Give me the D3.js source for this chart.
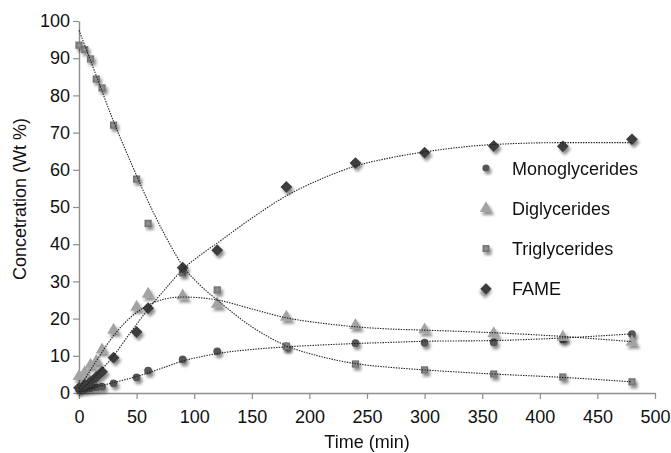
<!DOCTYPE html>
<html>
<head>
<meta charset="utf-8">
<script src="https://cdn.jsdelivr.net/npm/d3@7"></script>
<style>
  html, body { margin: 0; padding: 0; background: #fff; }
  svg { display: block; font-family: "Liberation Sans", Arial, Helvetica, sans-serif; }
</style>
</head>
<body>
<svg id="chart" width="671" height="453"></svg>
<script>
// Sampling times (min) and measured concentrations (wt %)
const times = [0, 5, 10, 15, 20, 30, 50, 60, 90, 120, 180, 240, 300, 360, 420, 480];
const mono  = [1.0, 1.1, 1.3, 1.5, 1.7, 2.6, 4.2, 6.0, 9.0, 11.2, 12.5, 13.4, 13.5, 13.6, 14.4, 15.8];
const di    = [4.5, 5.5, 7.5, 8.5, 11.6, 16.9, 23.1, 26.6, 26.1, 23.9, 20.4, 18.2, 17.0, 16.0, 15.0, 13.7];
const tri   = [93.5, 92.3, 89.8, 84.4, 82.0, 72.0, 57.5, 45.6, 32.3, 27.7, 12.6, 7.8, 6.2, 5.1, 4.3, 3.0];
const fame  = [1.4, 2.2, 3.0, 4.3, 5.7, 9.5, 16.4, 22.8, 33.7, 38.4, 55.4, 61.8, 64.6, 66.4, 66.3, 68.2];

// Fitted trend curves, sampled at these times
const fitTimes = [0, 15, 30, 45, 60, 75, 90, 105, 120, 150, 180, 210, 240, 270, 300, 360, 420, 480];
const fitMono  = [0.3, 1.6, 2.8, 4.0, 5.4, 7.0, 8.6, 9.7, 10.6, 11.7, 12.4, 12.9, 13.3, 13.6, 13.9, 14.1, 14.8, 15.9];
const fitDi    = [1.2, 8.6, 15.4, 20.4, 23.6, 25.3, 25.8, 25.6, 25.0, 22.6, 20.2, 18.8, 17.8, 17.2, 16.9, 16.2, 15.2, 13.8];
const fitTri   = [97.5, 85.3, 73.0, 62.0, 51.5, 42.2, 34.2, 29.0, 25.0, 17.8, 12.7, 9.8, 7.9, 6.9, 6.2, 5.1, 4.2, 3.0];
const fitFame  = [0.3, 4.8, 10.0, 16.4, 22.5, 28.0, 33.2, 37.0, 40.3, 47.0, 53.0, 57.5, 61.0, 63.2, 64.8, 66.8, 67.3, 67.3];

const xTicks = [0, 50, 100, 150, 200, 250, 300, 350, 400, 450, 500];
const yTicks = [0, 10, 20, 30, 40, 50, 60, 70, 80, 90, 100];

const seriesNames = ["Monoglycerides", "Diglycerides", "Triglycerides", "FAME"];

const svg = d3.select("#chart");
const x = d3.scaleLinear().domain([0, 500]).range([79, 655]);
const y = d3.scaleLinear().domain([0, 100]).range([393, 21]);

// soft drop shadow under the markers
const defs = svg.append("defs");
const f = defs.append("filter").attr("id", "shadow")
  .attr("x", "-60%").attr("y", "-60%").attr("width", "220%").attr("height", "220%");
f.append("feGaussianBlur").attr("in", "SourceAlpha").attr("stdDeviation", 1.6).attr("result", "b");
f.append("feOffset").attr("in", "b").attr("dx", 1.5).attr("dy", 2.5).attr("result", "o");
f.append("feComponentTransfer").attr("in", "o").attr("result", "s")
  .append("feFuncA").attr("type", "linear").attr("slope", 0.45);
const m = f.append("feMerge");
m.append("feMergeNode").attr("in", "s");
m.append("feMergeNode").attr("in", "SourceGraphic");

const sqGrad = defs.append("radialGradient").attr("id", "sqGrad");
sqGrad.append("stop").attr("offset", "0%").attr("stop-color", "#9a9a9a");
sqGrad.append("stop").attr("offset", "100%").attr("stop-color", "#707070");

// marker styles per series
const styles = [
  { sym: d3.symbolCircle,   size: 48, fill: "#555555", rot: 0 },
  { sym: d3.symbolTriangle, size: 70, fill: "#a3a3a3", rot: 0 },
  { sym: d3.symbolSquare,   size: 52, fill: "url(#sqGrad)", rot: 0 },
  { sym: d3.symbolSquare,   size: 70, fill: "#3c3c3c", rot: 45 }
];
const values = [mono, di, tri, fame];
const fits = [fitMono, fitDi, fitTri, fitFame];

// axes
const axisColor = "#8e8e8e";
const gy = svg.append("g").attr("transform", `translate(${x(0)},0)`)
  .call(d3.axisLeft(y).tickValues(yTicks).tickSize(6).tickPadding(3).tickSizeOuter(0));
const gx = svg.append("g").attr("transform", `translate(0,${y(0)})`)
  .call(d3.axisBottom(x).tickValues(xTicks).tickSize(6).tickPadding(11).tickSizeOuter(0));
[gx, gy].forEach(g => {
  g.select(".domain").attr("stroke", axisColor).attr("stroke-width", 1.4);
  g.selectAll(".tick line").attr("stroke", axisColor).attr("stroke-width", 1.2);
  g.selectAll(".tick text").attr("fill", "#111").style("font-size", "18px");
});

// markers
values.forEach((vals, i) => {
  const st = styles[i];
  svg.append("g").attr("filter", "url(#shadow)")
    .selectAll("path").data(times.map((t, k) => [t, vals[k]]))
    .join("path")
    .attr("d", d3.symbol().type(st.sym).size(st.size))
    .attr("transform", d => `translate(${x(d[0])},${y(d[1])}) rotate(${st.rot})`)
    .attr("fill", st.fill);
});

// dotted trend curves
const line = d3.line().x(d => x(d[0])).y(d => y(d[1])).curve(d3.curveMonotoneX);
fits.forEach(fv => {
  svg.append("path")
    .datum(fitTimes.map((t, k) => [t, fv[k]]))
    .attr("d", line)
    .attr("fill", "none")
    .attr("stroke", "#1e1e1e")
    .attr("stroke-width", 1.1)
    .attr("stroke-dasharray", "1.4,1.2");
});

// legend
const leg = svg.append("g");
seriesNames.forEach((name, i) => {
  const st = styles[i];
  const cy = 168 + i * 40.3;
  leg.append("path")
    .attr("d", d3.symbol().type(st.sym).size(i === 0 ? 40 : st.size * 0.95))
    .attr("transform", `translate(486,${cy}) rotate(${st.rot})`)
    .attr("fill", st.fill)
    .attr("filter", "url(#shadow)");
  leg.append("text")
    .attr("x", 512).attr("y", cy + 6.5)
    .attr("fill", "#111")
    .style("font-size", "18px")
    .text(name);
});

// axis titles
svg.append("text")
  .attr("x", x(250)).attr("y", 448)
  .attr("text-anchor", "middle")
  .attr("fill", "#111")
  .style("font-size", "18px")
  .text("Time (min)");
svg.append("text")
  .attr("transform", `translate(26,199) rotate(-90)`)
  .attr("text-anchor", "middle")
  .attr("fill", "#111")
  .style("font-size", "18px")
  .text("Concetration (Wt %)");
</script>
</body>
</html>
